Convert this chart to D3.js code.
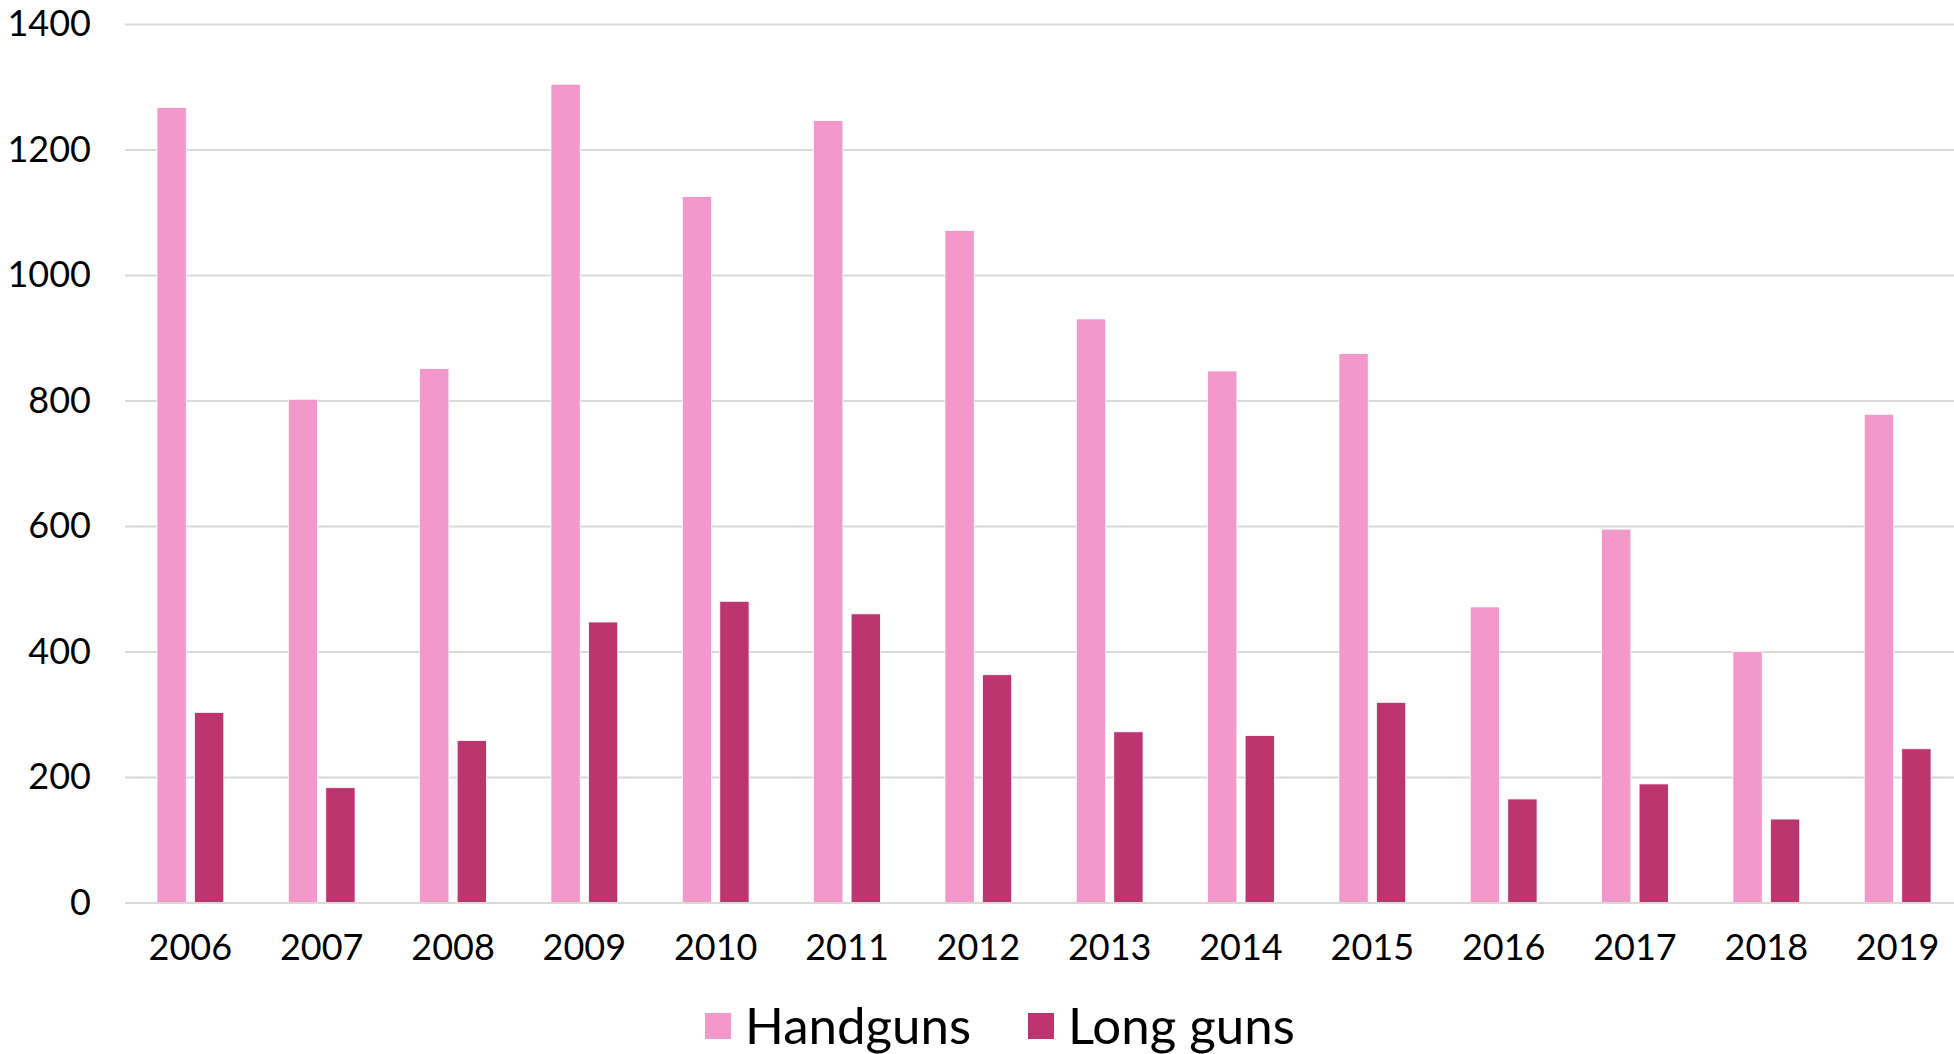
<!DOCTYPE html>
<html>
<head>
<meta charset="utf-8">
<script src="https://cdn.jsdelivr.net/npm/d3@7"></script>
<style>
  html, body { margin: 0; padding: 0; background: #fff; overflow: hidden; }
  svg { display: block; }
  text { font-family: Lato, "Open Sans", sans-serif; fill: #000; }
</style>
</head>
<body>
<svg id="chart" width="1954" height="1054"></svg>
<script>
// Firearms by year: handguns vs long guns
const years = ["2006","2007","2008","2009","2010","2011","2012","2013","2014","2015","2016","2017","2018","2019"];
const handguns = [1267, 802, 851, 1304, 1125, 1246, 1071, 930, 847, 875, 471, 595, 400, 778];
const longGuns = [303, 183, 258, 447, 480, 460, 363, 272, 266, 319, 165, 189, 133, 245];
const yTicks = [0, 200, 400, 600, 800, 1000, 1200, 1400];
const seriesNames = ["Handguns", "Long guns"];
const seriesColors = ["#F398CA", "#BC356E"];

const svg = d3.select("#chart");
const plot = { left: 124.7, right: 1963.3, top: 24, bottom: 902.5, gridRight: 1954 };

const x = d3.scaleBand().domain(years).range([plot.left, plot.right]).padding(0);
const y = d3.scaleLinear().domain([0, 1400]).range([plot.bottom, plot.top]);

// inner scale places the two series inside each year band
const inner = d3.scaleBand().domain(seriesNames)
  .range([0, x.bandwidth()]).paddingInner(0.219).paddingOuter(0.861);

// horizontal gridlines with value labels
const yAxis = d3.axisLeft(y).tickValues(yTicks).tickFormat(d3.format("d"))
  .tickSize(-(plot.gridRight - 125)).tickPadding(34);
const gy = svg.append("g").attr("transform", `translate(125,0)`).call(yAxis);
gy.select(".domain").remove();
gy.selectAll(".tick line").attr("stroke", "#d9d9d9").attr("stroke-width", 2);
gy.selectAll(".tick text").attr("font-size", 36).attr("fill", "#000")
  .style("font-family", "Lato, 'Open Sans', sans-serif");

// bars
const data = years.map((yr, i) => ({ year: yr, values: [handguns[i], longGuns[i]] }));
const groups = svg.append("g").selectAll("g").data(data).join("g")
  .attr("transform", d => `translate(${x(d.year)},0)`);
groups.selectAll("rect")
  .data(d => d.values.map((v, j) => ({ name: seriesNames[j], value: v, color: seriesColors[j] })))
  .join("rect")
  .attr("x", d => inner(d.name))
  .attr("width", inner.bandwidth())
  .attr("y", d => y(d.value))
  .attr("height", d => y(0) - y(d.value))
  .attr("fill", d => d.color)
  .attr("stroke", "#fff")
  .attr("stroke-width", 0.8);

// category axis (baseline)
const xAxis = d3.axisBottom(x).tickSize(0).tickPadding(32);
const gx = svg.append("g").attr("transform", `translate(0,${plot.bottom})`).call(xAxis);
gx.select(".domain").attr("stroke", "#d9d9d9").attr("stroke-width", 2);
gx.selectAll(".tick text").attr("font-size", 36).attr("fill", "#000")
  .style("font-family", "Lato, 'Open Sans', sans-serif");

// legend
const legend = svg.append("g").attr("transform", "translate(705,1013)");
const legendX = [0, 323];
seriesNames.forEach((name, i) => {
  const g = legend.append("g").attr("transform", `translate(${legendX[i]},0)`);
  g.append("rect").attr("width", 26).attr("height", 26).attr("fill", seriesColors[i]);
  g.append("text").attr("x", 40).attr("y", 13).attr("dy", "0.35em")
    .attr("font-size", 51).text(name);
});
</script>
</body>
</html>
